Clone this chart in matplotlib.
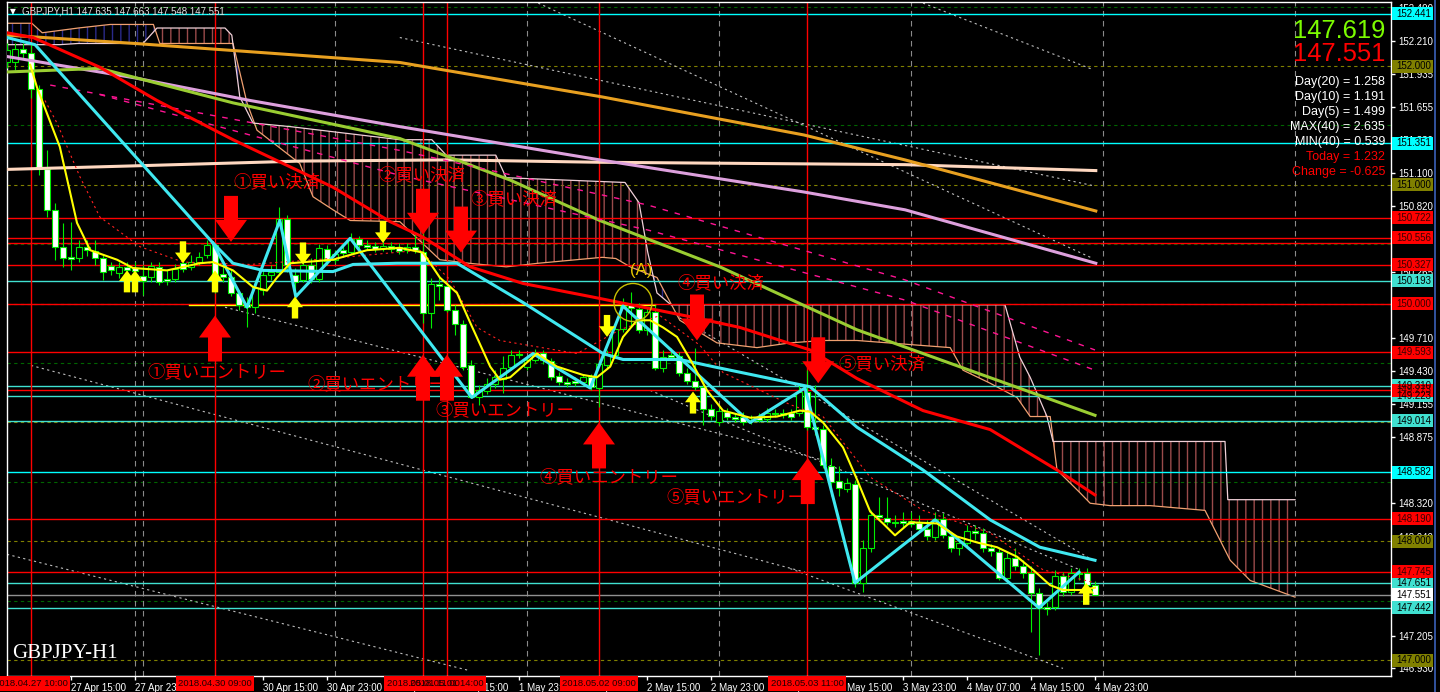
import numpy as np
import matplotlib
matplotlib.use('Agg')
import matplotlib.pyplot as plt
from matplotlib.patches import Polygon, Ellipse, Rectangle
import matplotlib.transforms as mtransforms

plt.rcParams['font.family'] = ['Liberation Sans', 'DejaVu Sans']
plt.rcParams['hatch.linewidth'] = 1.0

# ---------------- candle data (H1 bars, index 0 = 27 Apr 07:00) ----------------
opens = [152.034,152.034,152.144,152.110,151.807,151.133,150.788,150.477,150.393,150.384,
         150.477,150.443,150.384,150.317,150.258,150.308,150.300,150.233,150.224,150.308,
         150.207,150.207,150.342,150.308,150.351,150.409,150.494,150.249,150.224,150.089,
         149.997,149.972,150.115,150.241,150.266,150.712,150.241,150.199,150.325,150.207,
         150.460,150.367,150.451,150.435,150.544,150.494,150.485,150.468,150.485,150.477,
         150.451,150.477,150.435,149.921,150.165,150.148,149.947,149.829,149.483,149.214,
         149.265,149.324,149.366,149.467,149.576,149.467,149.525,149.584,149.517,149.391,
         149.340,149.349,149.340,149.382,149.290,149.483,149.568,149.787,149.989,149.955,
         149.778,149.930,149.458,149.568,149.559,149.416,149.349,149.298,149.113,149.004,
         149.088,149.046,149.046,149.020,149.046,149.029,149.079,149.079,149.079,149.079,
         149.256,148.961,148.945,148.633,148.507,148.440,148.481,147.648,147.943,148.221,
         148.196,148.162,148.170,148.170,148.153,148.103,148.036,148.187,148.044,147.943,
         147.985,148.086,148.069,147.943,147.909,147.690,147.859,147.791,147.733,147.564,
         147.446,147.446,147.707,147.572,147.733,147.733,147.635]
highs = [152.194,152.194,152.194,152.194,151.840,151.293,150.847,150.679,150.687,150.536,
         150.536,150.536,150.409,150.351,150.351,150.351,150.351,150.325,150.351,150.351,
         150.283,150.334,150.384,150.409,150.435,150.536,150.510,150.325,150.283,150.115,
         150.056,150.199,150.283,150.325,150.813,150.746,150.300,150.409,150.384,150.502,
         150.494,150.451,150.494,150.595,150.569,150.536,150.519,150.536,150.519,150.510,
         150.510,150.603,150.620,150.216,150.224,150.174,149.989,149.862,149.525,149.315,
         149.374,149.441,149.559,149.610,149.610,149.559,149.618,149.610,149.542,149.424,
         149.374,149.382,149.408,149.408,149.525,149.610,149.820,150.047,150.098,150.005,
         149.972,149.989,149.610,149.627,149.593,149.458,149.627,149.332,149.155,149.147,
         149.121,149.079,149.088,149.062,149.079,149.121,149.113,149.113,149.113,149.315,
         149.441,149.315,148.978,148.700,148.633,148.532,148.515,148.010,148.263,148.372,
         148.372,148.221,148.246,148.246,148.221,148.179,148.246,148.238,148.078,148.027,
         148.137,148.137,148.111,147.977,147.943,147.909,147.943,147.842,147.791,147.606,
         147.488,147.758,147.741,147.775,147.775,147.775,147.663]
lows = [151.984,151.967,152.068,151.731,151.083,150.729,150.367,150.308,150.283,150.351,
        150.401,150.325,150.199,150.241,150.216,150.241,150.115,150.073,150.182,150.157,
        150.157,150.182,150.266,150.283,150.325,150.384,150.089,150.182,150.064,149.947,
        149.803,149.921,150.073,150.199,150.241,150.266,150.031,150.182,150.174,150.182,
        150.325,150.342,150.393,150.418,150.468,150.451,150.435,150.443,150.435,150.418,
        150.426,150.426,149.837,149.795,150.031,149.930,149.736,149.441,149.206,149.147,
        149.239,149.290,149.248,149.441,149.542,149.441,149.509,149.492,149.357,149.315,
        149.298,149.307,149.315,149.273,149.130,149.458,149.542,149.761,149.803,149.753,
        149.736,149.441,149.424,149.525,149.391,149.324,149.273,148.978,149.020,148.978,
        149.020,149.004,148.978,148.987,149.004,149.004,149.046,149.037,149.020,149.054,
        148.936,148.894,148.616,148.381,148.381,148.414,147.614,147.572,147.909,148.179,
        148.137,148.120,148.120,148.120,148.078,148.010,148.010,148.027,147.909,147.884,
        147.960,148.010,147.909,147.876,147.674,147.674,147.758,147.690,147.236,147.042,
        147.379,147.421,147.539,147.547,147.674,147.589,147.548]
closes = [152.135,152.144,152.110,151.807,151.133,150.788,150.477,150.384,150.376,150.477,
          150.451,150.384,150.266,150.283,150.308,150.283,150.275,150.191,150.317,150.182,
          150.191,150.292,150.292,150.351,150.393,150.494,150.241,150.224,150.089,149.989,
          149.972,150.132,150.241,150.266,150.712,150.325,150.182,150.325,150.207,150.468,
          150.359,150.418,150.426,150.544,150.494,150.477,150.460,150.485,150.460,150.443,
          150.477,150.451,149.921,150.165,150.148,149.947,149.829,149.467,149.214,149.273,
          149.324,149.382,149.458,149.568,149.568,149.525,149.584,149.525,149.382,149.340,
          149.324,149.332,149.382,149.298,149.492,149.568,149.787,149.980,149.963,149.778,
          149.930,149.458,149.551,149.551,149.416,149.349,149.298,149.113,149.054,149.096,
          149.046,149.029,149.004,149.012,149.020,149.079,149.071,149.062,149.046,149.256,
          148.961,148.945,148.642,148.498,148.448,148.490,147.648,147.943,148.221,148.204,
          148.162,148.153,148.153,148.145,148.103,148.044,148.187,148.052,147.943,147.985,
          148.086,148.069,147.943,147.918,147.690,147.859,147.791,147.733,147.564,147.438,
          147.429,147.707,147.572,147.733,147.724,147.631,147.551]

# ---------------- indicator lines (bar index, price) ----------------
orange_x = [0, 16, 49.1, 74.4, 99.6, 112.25, 136.1]
orange_y = [152.26, 152.19, 152.03, 151.74, 151.42, 151.21, 150.78]
peach_x = [0, 16, 36.6, 55.4, 74.1, 112.25, 136.1]
peach_y = [151.13, 151.16, 151.20, 151.21, 151.19, 151.17, 151.12]
plum_x = [0, 16, 30.4, 49.1, 74.1, 99.6, 112.25, 136.1]
plum_y = [152.08, 151.90, 151.71, 151.49, 151.21, 150.94, 150.79, 150.34]
ygreen_x = [0, 11.6, 28.25, 49.1, 62.9, 74.1, 89.1, 100.1, 106.25, 136]
ygreen_y = [151.95, 151.98, 151.69, 151.39, 151.04, 150.70, 150.31, 149.97, 149.78, 149.06]
red_x = [0, 3.25, 11.6, 18.75, 28.25, 40.75, 47.9, 52, 57.9, 64.5, 72.9, 85.4, 91.6,
         100.4, 106.25, 114.5, 122.9, 131.25, 136]
red_y = [152.28, 152.24, 151.99, 151.71, 151.38, 150.98, 150.69, 150.56, 150.31, 150.17,
         150.06, 149.89, 149.80, 149.61, 149.37, 149.10, 148.94, 148.60, 148.39]
cyan_x = [0, 3.5, 25.75, 28.25, 32, 40.75, 43.25, 48.75, 56.25, 58.25, 64.5, 74.5, 77,
          84.1, 88.25, 100.4, 106.25, 114.5, 122.9, 129.1, 136]
cyan_y = [152.24, 152.18, 150.51, 150.34, 150.28, 150.27, 150.33, 150.34, 150.34, 150.26,
          150.01, 149.58, 149.53, 149.53, 149.47, 149.30, 148.96, 148.60, 148.18, 147.95, 147.84]
zig_x = [25.75, 30, 34.1, 36.1, 42.9, 58.1, 65.75, 72.9, 77, 92.9, 99.75, 106, 116, 129, 134]
zig_y = [150.51, 149.97, 150.70, 150.06, 150.55, 149.21, 149.58, 149.29, 149.98, 149.00,
         149.29, 147.65, 148.18, 147.44, 147.74]
yel_x = [2.9, 3.75, 6.6, 8.75, 10.4, 13.75, 15.75, 20, 24.1, 25.75, 28.25, 30.75, 32.5, 33.75,
         35.4, 40.75, 45, 49.1, 52, 54.1, 56.25, 57.9, 60.4, 61.6, 62.9, 66.25, 68.75, 72,
         73.75, 75.4, 77, 78.75, 80.4, 82, 83.75, 85.4, 87.5, 89.5, 92.9, 96.25, 99.1, 100.4,
         102, 104.5, 106.25, 107.9, 109.5, 111, 112.9, 116.25, 118.75, 121.25, 123.75, 126.25,
         128.25, 130.4, 132, 134.5, 136]
yel_y = [152.01, 151.82, 151.32, 150.68, 150.45, 150.37, 150.30, 150.28, 150.34, 150.35,
         150.28, 150.14, 150.11, 150.22, 150.34, 150.37, 150.45, 150.47, 150.43, 150.22,
         150.09, 149.84, 149.47, 149.36, 149.38, 149.58, 149.47, 149.40, 149.38, 149.47,
         149.72, 149.86, 149.86, 149.80, 149.72, 149.53, 149.27, 149.10, 149.04, 149.05,
         149.10, 149.09, 149.00, 148.79, 148.52, 148.25, 148.15, 148.05, 148.16, 148.15,
         148.04, 147.99, 147.95, 147.87, 147.76, 147.63, 147.59, 147.59, 147.61]
rdot_x = [4.75, 6.25, 9.1, 11.6, 16.6, 22, 30.4, 40.4, 51.6, 55.4, 58.75, 61.6, 71.25, 76.6,
          81.6, 86.6, 89.5, 97.9, 102, 107.9, 114.5, 122.9, 129.5, 136]
rdot_y = [151.71, 151.52, 151.07, 150.73, 150.48, 150.35, 150.33, 150.38, 150.45, 150.20,
          149.80, 149.69, 149.58, 149.78, 149.90, 149.65, 149.42, 149.15, 149.05, 148.54,
          148.26, 148.07, 147.76, 147.65]
pinkA_x = [5.4, 49.1, 80.1, 112.25, 136]
pinkA_y = [151.84, 151.29, 150.83, 150.20, 149.61]
pinkB_x = [11.6, 49.1, 80.1, 112.25, 136]
pinkB_y = [151.76, 151.08, 150.62, 150.03, 149.44]

# Ichimoku spans (bar, price); cloud runs 25 bars into the future
spanA_x = [0, 3.1, 4.4, 8.9, 12.9, 18.3, 19.1, 28.25, 30, 31.25, 36.6, 38.25, 40.75, 42.9,
           49.1, 54.1, 57.75, 62.4, 66.4, 74.4, 76.1, 77.9, 81.25, 84.1, 88.75, 93.75, 97.9,
           102, 106.25, 117.9, 119.5, 122.9, 126.25, 127.9, 130.4, 131.25, 134.1, 135.4,
           137.9, 142.9, 149.75, 152.9, 155.4, 161]
spanA_y = [152.36, 152.36, 152.28, 152.32, 152.35, 152.35, 152.19, 152.19, 151.69, 151.46,
           151.18, 150.90, 150.79, 150.70, 150.69, 150.37, 150.34, 150.31, 150.34, 150.39,
           150.38, 150.31, 150.22, 149.86, 149.67, 149.63, 149.67, 149.69, 149.69, 149.63,
           149.44, 149.33, 149.21, 149.05, 149.05, 148.60, 148.41, 148.32, 148.30, 148.30,
           148.26, 147.84, 147.67, 147.53]
spanB_x = [0, 6.6, 8.9, 17, 18.75, 27.25, 28.1, 29.1, 30.75, 35.4, 49.1, 53.1, 54.9, 61.1,
           62.4, 77.25, 79, 80.1, 81.25, 83, 124.75, 126.6, 127.9, 130, 130.75, 152.25, 152.6, 161]
spanB_y = [152.18, 152.18, 152.19, 152.19, 152.32, 152.32, 152.26, 151.74, 151.52, 151.49,
           151.38, 151.38, 151.25, 151.25, 151.06, 151.02, 150.85, 150.43, 150.09, 149.99,
           149.99, 149.55, 149.38, 149.05, 148.84, 148.84, 148.35, 148.35]

# horizontal levels
lv_cyan = [152.441, 151.351, 148.582]
lv_turq = [150.193, 149.310, 149.223, 149.014, 147.651, 147.442]
lv_red = [150.722, 150.556, 150.507, 150.327, 150.000, 149.593, 149.273, 148.190, 147.745]
lv_olive = [152.0, 151.0, 150.0, 149.0, 148.0, 147.0]
lv_green = [152.5, 151.5, 150.5, 149.5, 148.5, 147.5]
last_price = 147.551
yline_x = [22.75, 81]
yline_y = 149.99

# dotted channel lines
chan = [([114.5, 135.75], [152.53, 151.97]),
        ([66.4, 135.75], [152.53, 150.38]),
        ([49.1, 136], [152.24, 150.99]),
        ([3, 99.75], [149.48, 147.74]),
        ([97.9, 132], [147.77, 146.93]),
        ([0, 57.9], [147.89, 146.91]),
        ([27.25, 101.6], [149.97, 148.69]),
        ([84.1, 135.75], [149.88, 147.84]),
        ([80.4, 134.1], [149.27, 147.76])]

# time axis
xt_bars = [8, 16, 32, 40, 48, 56, 64, 72, 80, 88, 96, 104, 112, 120, 128, 136]
xt_labels = ['27 Apr 15:00', '27 Apr 23:00', '30 Apr 15:00', '30 Apr 23:00', '1 May 07:00',
             '1 May 15:00', '1 May 23:00', '2 May 07:00', '2 May 15:00', '2 May 23:00',
             '3 May 07:00', '3 May 15:00', '3 May 23:00', '4 May 07:00', '4 May 15:00',
             '4 May 23:00']
vred_bars = [3, 26, 52, 55, 74, 100]
vred_labels = ['2018.04.27 10:00', '2018.04.30 09:00', '2018.05.01 11:00', '2018.05.01 14:00',
               '2018.05.02 09:00', '2018.05.03 11:00']
vday_bars = [16, 17, 41, 65, 89, 113, 137, 161]

yt = [152.490, 152.210, 151.935, 151.655, 151.380, 151.100, 150.820, 150.545, 150.265,
      149.990, 149.710, 149.430, 149.155, 148.875, 148.600, 148.320, 148.040, 147.765,
      147.485, 147.205, 146.930]

# signals
down_x = [28, 52, 56.75, 86.25, 101.4]
down_tip = [150.52, 150.58, 150.43, 149.69, 149.33]
up_x = [26, 52, 55, 74, 100.1]
up_tip = [149.90, 149.57, 149.57, 149.00, 148.70]
ann = [('①買い決済', 28.25, 151.02), ('②買い決済', 46.4, 151.08), ('③買い決済', 57.9, 150.88),
       ('④買い決済', 83.75, 150.17), ('⑤買い決済', 103.9, 149.49),
       ('①買いエントリー', 17.5, 149.42), ('②買いエントリー', 37.6, 149.32),
       ('③買いエントリー', 53.6, 149.10), ('④買いエントリー', 66.6, 148.54),
       ('⑤買いエントリー', 82.4, 148.37)]
yup_x = [15, 16, 26, 36, 85.75, 134.9]
yup_tip = [150.28, 150.28, 150.28, 150.06, 149.26, 147.65]
ydn_x = [22, 37, 47, 75]
ydn_tip = [150.34, 150.33, 150.51, 149.72]

stats = ['Day(20) = 1.258', 'Day(10) = 1.191', 'Day(5) = 1.499', 'MAX(40) = 2.635',
         'MIN(40) = 0.539']
stats_red = ['Today = 1.232', 'Change = -0.625']
bid, ask = '147.551', '147.619'

# ---------------- figure ----------------
W, H = 1440, 692
fig = plt.figure(figsize=(W / 100, H / 100), dpi=100, facecolor='black')
ax = fig.add_axes([7 / W, 16 / H, 1384 / W, 674 / H])
ax.set_facecolor('black')
ax.set_xlim(0, 173)
ax.set_ylim(146.866, 152.539)
for s in ax.spines.values():
    s.set_color('white')
    s.set_linewidth(1)

ax.yaxis.tick_right()
ax.set_yticks(yt)
ax.set_yticklabels([f'{v:.3f}' for v in yt])
ax.tick_params(axis='y', colors='white', length=3, width=1, labelsize=7, pad=2)
ax.set_xticks(xt_bars)
ax.set_xticklabels(xt_labels)
ax.tick_params(axis='x', colors='white', length=3, width=1, labelsize=7, pad=2)
for t in ax.get_xticklabels():
    t.set_ha('left')

# grid-like levels
for v in lv_green:
    ax.axhline(v, color='#006400', lw=0.8, ls=(0, (3, 3)), zorder=1)
for v in lv_olive:
    ax.axhline(v, color='#808000', lw=0.8, ls=(0, (3, 3)), zorder=1)
for b in vday_bars:
    ax.axvline(b, color='#8a8a8a', lw=0.8, ls=(0, (5, 4)), zorder=1)

# dotted channel lines
for cx, cy in chan:
    ax.plot(cx, cy, color='#bdbdbd', lw=0.8, ls=(0, (2, 3)), zorder=1.5)

# Ichimoku cloud
gx = np.linspace(0, 161, 1289)
ga = np.interp(gx, spanA_x, spanA_y)
gb = np.interp(gx, spanB_x, spanB_y)
ax.fill_between(gx, ga, gb, where=ga >= gb, interpolate=True, facecolor='none',
                edgecolor='#2a2a8a', hatch='||', linewidth=0, zorder=1.6)
ax.fill_between(gx, ga, gb, where=ga < gb, interpolate=True, facecolor='none',
                edgecolor='#9a4b4b', hatch='||', linewidth=0, zorder=1.6)
ax.plot(spanA_x, spanA_y, color='#f0a070', lw=0.9, zorder=1.7)
ax.plot(spanB_x, spanB_y, color='#f0d0d8', lw=0.9, zorder=1.7)

# horizontal price lines
for v in lv_cyan:
    ax.axhline(v, color='#00ffff', lw=1, zorder=2)
for v in lv_turq:
    ax.axhline(v, color='#40e0d0', lw=1, zorder=2)
for v in lv_red:
    ax.axhline(v, color='#ff0000', lw=1, zorder=2)
ax.axhline(last_price, color='#909090', lw=1, zorder=2)
ax.plot(yline_x, [yline_y, yline_y], color='#ffff00', lw=1, zorder=2)
for b in vred_bars:
    ax.axvline(b, color='#ff0000', lw=1, zorder=2)

# candles
o = np.array(opens); hh = np.array(highs); ll = np.array(lows); c = np.array(closes)
idx = np.arange(len(c))
bull = c >= o
ax.vlines(idx, ll, hh, color='#00ee00', lw=0.8, zorder=3)
ax.bar(idx, np.maximum(np.abs(c - o), 0.006), bottom=np.minimum(o, c), width=0.66,
       color=np.where(bull, 'black', 'white'), edgecolor='#00ee00', linewidth=0.8, zorder=3.1)

# moving averages
ax.plot(peach_x, peach_y, color='#ffd8c0', lw=2.2, zorder=4)
ax.plot(orange_x, orange_y, color='#e8a020', lw=2.2, zorder=4)
ax.plot(plum_x, plum_y, color='#dda0dd', lw=2.2, zorder=4)
ax.plot(ygreen_x, ygreen_y, color='#9acd32', lw=2.2, zorder=4)
ax.plot(pinkA_x, pinkA_y, color='#ff1493', lw=1, ls=(0, (4, 5)), zorder=4)
ax.plot(pinkB_x, pinkB_y, color='#ff1493', lw=1, ls=(0, (4, 5)), zorder=4)
ax.plot(red_x, red_y, color='#ff0000', lw=2.2, zorder=4)
ax.plot(rdot_x, rdot_y, color='#ff2020', lw=0.8, ls=(0, (2, 3)), zorder=4)
ax.plot(cyan_x, cyan_y, color='#40e8f0', lw=2.2, zorder=4.2)
ax.plot(zig_x, zig_y, color='#40e8f0', lw=2.2, zorder=4.2)
ax.plot(yel_x, yel_y, color='#ffff00', lw=1.5, zorder=4.3)

# arrows
def arrow(x, tip, up, hw, sw, hl, tl, color, z):
    s = 1 if up else -1
    pts = [(x, tip), (x + hw, tip - s * hl), (x + sw, tip - s * hl), (x + sw, tip - s * tl),
           (x - sw, tip - s * tl), (x - sw, tip - s * hl), (x - hw, tip - s * hl)]
    ax.add_patch(Polygon(pts, closed=True, facecolor=color, edgecolor='none', zorder=z))

for x, t in zip(down_x, down_tip):
    arrow(x, t, False, 2.0, 0.875, 0.185, 0.387, '#ff0000', 6)
for x, t in zip(up_x, up_tip):
    arrow(x, t, True, 2.0, 0.875, 0.185, 0.387, '#ff0000', 6)
for x, t in zip(yup_x, yup_tip):
    arrow(x, t, True, 1.0, 0.4, 0.09, 0.185, '#ffff00', 5)
for x, t in zip(ydn_x, ydn_tip):
    arrow(x, t, False, 1.0, 0.4, 0.09, 0.185, '#ffff00', 5)

jp = ['Noto Sans CJK JP', 'DejaVu Sans']
for txt, x, y in ann:
    ax.text(x, y, txt, color='#ff0000', fontsize=12.5, family=jp, va='center', ha='left',
            zorder=5.5)

ax.add_patch(Ellipse((78.25, 150.01), 4.75, 0.32, facecolor='none', edgecolor='#c8c000',
                     lw=1, zorder=6))
ax.text(79.25, 150.28, '(A)', color='#e6c800', fontsize=12, ha='center', va='center',
        zorder=6)

# ---------------- texts outside / overlays ----------------
idt = mtransforms.IdentityTransform()
fig.canvas.draw()

def ypx(p):
    return ax.transData.transform((0, p))[1]

def xpx(b):
    return ax.transData.transform((b, 0))[0]

def box(p, label, fc, tc):
    y = ypx(p)
    fig.add_artist(Rectangle((1392, y - 6.5), 41, 13, facecolor=fc, edgecolor='none',
                             transform=idt, zorder=10))
    fig.text(1396, y, label, color=tc, fontsize=7, va='center', ha='left', transform=idt,
             zorder=11)

for v in lv_olive:
    if v in (152.0, 151.0, 148.0, 147.0):
        box(v, f'{v:.3f}', '#808000', 'black')
for v in [149.310, 149.223, 150.193, 149.014, 147.651, 147.442]:
    box(v, f'{v:.3f}', '#40e0d0', 'black')
for v in lv_cyan:
    box(v, f'{v:.3f}', '#00ffff', 'black')
for v in lv_red:
    if v != 150.507:
        box(v, f'{v:.3f}', '#ff0000', '#3a0000')
box(last_price, f'{last_price:.3f}', 'white', 'black')

for b, lab in zip(vred_bars, vred_labels):
    x = xpx(b)
    fig.add_artist(Rectangle((x - 39, 1), 78, 15, facecolor='#ff0000', edgecolor='none',
                             transform=idt, zorder=10))
    fig.text(x, 8.5, lab, color='#200000', fontsize=6.8, va='center', ha='center',
             transform=idt, zorder=11)

fig.text(13, H - 12, '▼', color='white', fontsize=5.5, va='center', ha='center',
         transform=idt, family=['DejaVu Sans'])
fig.text(22, H - 12, 'GBPJPY,H1 147.635 147.663 147.548 147.551', color='#e0e0e0',
         fontsize=7, va='center', ha='left', transform=idt)

fig.text(1385, H - 31, ask, color='#7cfc00', fontsize=18.4, ha='right', va='center',
         transform=idt)
fig.text(1385, H - 54, bid, color='#ff0000', fontsize=18.4, ha='right', va='center',
         transform=idt)
for k, s in enumerate(stats):
    fig.text(1385, H - 82 - 15 * k, s, color='white', fontsize=9, ha='right', va='center',
             transform=idt)
for k, s in enumerate(stats_red):
    fig.text(1385, H - 157 - 15 * k, s, color='#ff0000', fontsize=9, ha='right',
             va='center', transform=idt)

fig.text(12, H - 653, 'GBPJPY-H1', color='white', fontsize=15, family=['Liberation Serif'],
         ha='left', va='center', transform=idt)

fig.add_artist(Rectangle((1434, 0), 2, H, facecolor='#30509a', edgecolor='none',
                         transform=idt, zorder=10))

fig.savefig('out.png', dpi=100, facecolor='black')
